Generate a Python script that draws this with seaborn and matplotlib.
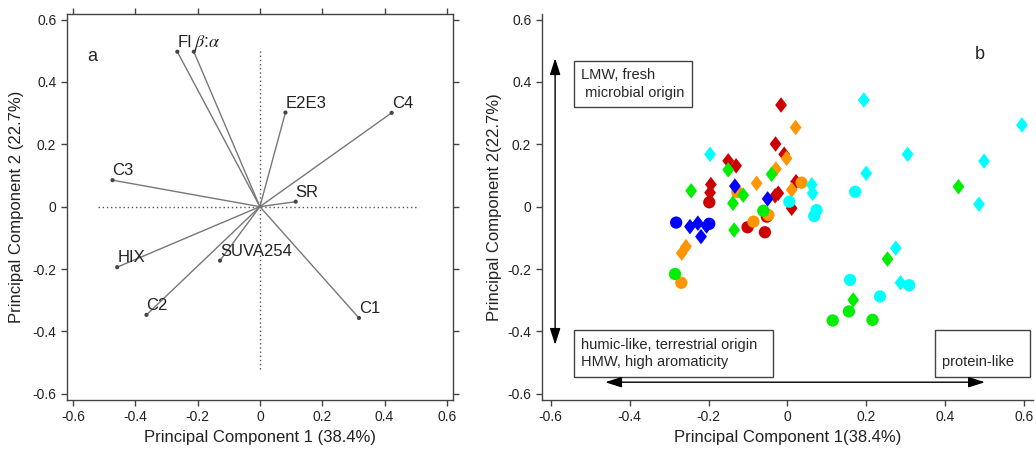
import numpy as np
import pandas as pd
import matplotlib
matplotlib.use("Agg")
import matplotlib.pyplot as plt
from matplotlib.path import Path
import seaborn as sns

sns.set_style("white")
plt.rcParams['font.family'] = ['Liberation Sans', 'DejaVu Sans']
plt.rcParams['mathtext.fontset'] = 'stix'

# ---------------- data: panel a (loadings) ----------------
var_names = ["FI", r"$\beta$:$\alpha$", "E2E3", "C4", "C3", "SR", "HIX", "SUVA254", "C2", "C1"]
load_pc1 = [-0.265, -0.212, 0.082, 0.423, -0.473, 0.115, -0.458, -0.128, -0.364, 0.318]
load_pc2 = [0.497, 0.497, 0.302, 0.301, 0.085, 0.016, -0.194, -0.173, -0.347, -0.357]

# ---------------- data: panel b (scores) ----------------
score_pc1 = [
    # red
    -0.016, -0.030, -0.008, -0.150, -0.130, -0.194, -0.196, -0.198, -0.031, -0.023, 0.022, 0.011,
    -0.052, -0.101, -0.057,
    # orange
    0.021, -0.029, -0.002, -0.078, 0.011, 0.036, -0.086, -0.048, -0.127, -0.268, -0.257, -0.269,
    # green
    -0.150, -0.040, -0.244, -0.138, -0.112, -0.135, 0.434, 0.254, 0.167,
    -0.061, -0.285, 0.156, 0.115, 0.216,
    # blue
    -0.282, -0.198, -0.247, -0.227, -0.219, -0.205, -0.133, -0.050,
    # cyan
    -0.196, 0.194, 0.305, 0.595, 0.499, 0.200, 0.486, 0.062, 0.064, 0.275, 0.287,
    0.172, 0.005, 0.074, 0.068, 0.159, 0.309, 0.235,
]
score_pc2 = [
    0.326, 0.201, 0.168, 0.147, 0.131, 0.071, 0.045, 0.014, 0.035, 0.043, 0.080, -0.005,
    -0.032, -0.066, -0.082,
    0.254, 0.121, 0.155, 0.075, 0.054, 0.077, -0.048, -0.027, 0.047, -0.149, -0.128, -0.244,
    0.118, 0.104, 0.051, 0.011, 0.037, -0.075, 0.064, -0.168, -0.299,
    -0.013, -0.216, -0.336, -0.365, -0.363,
    -0.051, -0.055, -0.064, -0.053, -0.096, -0.062, 0.066, 0.025,
    0.168, 0.342, 0.168, 0.262, 0.146, 0.107, 0.008, 0.070, 0.043, -0.133, -0.244,
    0.048, 0.016, -0.011, -0.030, -0.235, -0.252, -0.288,
]
score_group = (["red"] * 15 + ["orange"] * 12 + ["green"] * 14 + ["blue"] * 8 + ["cyan"] * 18)
score_shape = (
    ["diamond"] * 7 + ["circle"] + ["diamond"] * 4 + ["circle"] * 3 +
    ["diamond"] * 5 + ["circle"] * 4 + ["diamond"] * 2 + ["circle"] +
    ["diamond"] * 9 + ["circle"] * 5 +
    ["circle"] * 2 + ["diamond"] * 6 +
    ["diamond"] * 11 + ["circle"] * 7
)

ticks = [-0.6, -0.4, -0.2, 0, 0.2, 0.4, 0.6]
tick_labels = ["-0.6", "-0.4", "-0.2", "0", "0.2", "0.4", "0.6"]

palette = {"red": "#CC0000", "orange": "#FF9500", "green": "#00EE00",
           "blue": "#0000FF", "cyan": "#00FFFF"}
diamond = Path([(0, 1), (0.76, 0), (0, -1), (-0.76, 0), (0, 1)],
               [Path.MOVETO, Path.LINETO, Path.LINETO, Path.LINETO, Path.CLOSEPOLY])

spine_col = "#444444"
txt_col = "#222222"

fig = plt.figure(figsize=(10.36, 4.51), dpi=100)
axa = fig.add_axes([0.0644, 0.1131, 0.3729, 0.8559])
axb = fig.add_axes([0.5229, 0.1131, 0.4742, 0.8559])

# ---------------- panel a ----------------
axa.plot([-0.52, 0.51], [0, 0], linestyle=(0, (1, 2)), color="#555555", lw=1)
axa.plot([0, 0], [-0.52, 0.51], linestyle=(0, (1, 2)), color="#555555", lw=1)
for x, y in zip(load_pc1, load_pc2):
    axa.plot([0, x], [0, y], color="#777777", lw=1)
dfa = pd.DataFrame({"pc1": load_pc1, "pc2": load_pc2, "var": var_names})
sns.scatterplot(data=dfa, x="pc1", y="pc2", ax=axa, color="#444444", s=9,
                edgecolor="none", legend=False, zorder=3)
for x, y, name in zip(load_pc1, load_pc2, var_names):
    fs = 13 if name.startswith("$") else 12
    axa.text(x, y + 0.016, name, ha="left", va="baseline", fontsize=fs, color=txt_col)
axa.text(0.065, 0.889, "a", transform=axa.transAxes, fontsize=13, ha="center", va="center")

axa.set_xlim(-0.62, 0.62)
axa.set_ylim(-0.62, 0.618)
axa.set_xticks(ticks)
axa.set_xticklabels(tick_labels)
axa.set_yticks(ticks)
axa.set_yticklabels(tick_labels)
axa.tick_params(direction="out", length=4, width=1, color=spine_col, labelsize=10,
                labelcolor=txt_col, top=True, right=True, bottom=True, left=True)
for sp in axa.spines.values():
    sp.set_color(spine_col)
    sp.set_linewidth(1)
axa.set_xlabel("Principal Component 1 (38.4%)", fontsize=12, color=txt_col)
axa.set_ylabel("Principal Component 2 (22.7%)", fontsize=12, color=txt_col, labelpad=6)

# ---------------- panel b ----------------
dfb = pd.DataFrame({"pc1": score_pc1, "pc2": score_pc2, "group": score_group, "shape": score_shape})
sns.scatterplot(data=dfb, x="pc1", y="pc2", hue="group", style="shape", size="shape",
                palette=palette, markers={"circle": "o", "diamond": diamond},
                sizes={"circle": 78, "diamond": 125}, edgecolor="none", linewidth=0,
                legend=False, ax=axb, zorder=3)

axb.set_xlim(-0.623, 0.623)
axb.set_ylim(-0.62, 0.618)
axb.set_xticks(ticks)
axb.set_xticklabels(tick_labels)
axb.set_yticks(ticks)
axb.set_yticklabels(tick_labels)
axb.tick_params(direction="out", length=4, width=1, color=spine_col, labelsize=10,
                labelcolor=txt_col, bottom=True, left=True)
for side in ["top", "right"]:
    axb.spines[side].set_visible(False)
for side in ["left", "bottom"]:
    axb.spines[side].set_color(spine_col)
    axb.spines[side].set_linewidth(1)
axb.set_xlabel("Principal Component 1(38.4%)", fontsize=12, color=txt_col)
axb.set_ylabel("Principal Component 2(22.7%)", fontsize=12, color=txt_col)
axb.text(0.891, 0.894, "b", transform=axb.transAxes, fontsize=13, ha="center", va="center")

box = dict(boxstyle="square,pad=0.5", fc="white", ec=spine_col, lw=1)
axb.text(-0.523, 0.445, "LMW, fresh\n microbial origin", fontsize=10.5, ha="left", va="top",
         bbox=box, linespacing=1.35)
axb.text(-0.523, -0.42, "humic-like, terrestrial origin  \nHMW, high aromaticity", fontsize=10.5,
         ha="left", va="top", bbox=box, linespacing=1.35)
axb.text(0.393, -0.42, " \nprotein-like  ", fontsize=10.5, ha="left", va="top", bbox=box,
         linespacing=1.35)

arrow = dict(arrowstyle="<|-|>,head_length=1.0,head_width=0.32", color="black", lw=1,
             shrinkA=0, shrinkB=0)
axb.annotate("", xy=(-0.589, 0.476), xytext=(-0.589, -0.443), arrowprops=arrow)
axb.annotate("", xy=(-0.462, -0.563), xytext=(0.501, -0.563), arrowprops=arrow)

fig.savefig("out.png", dpi=100)
